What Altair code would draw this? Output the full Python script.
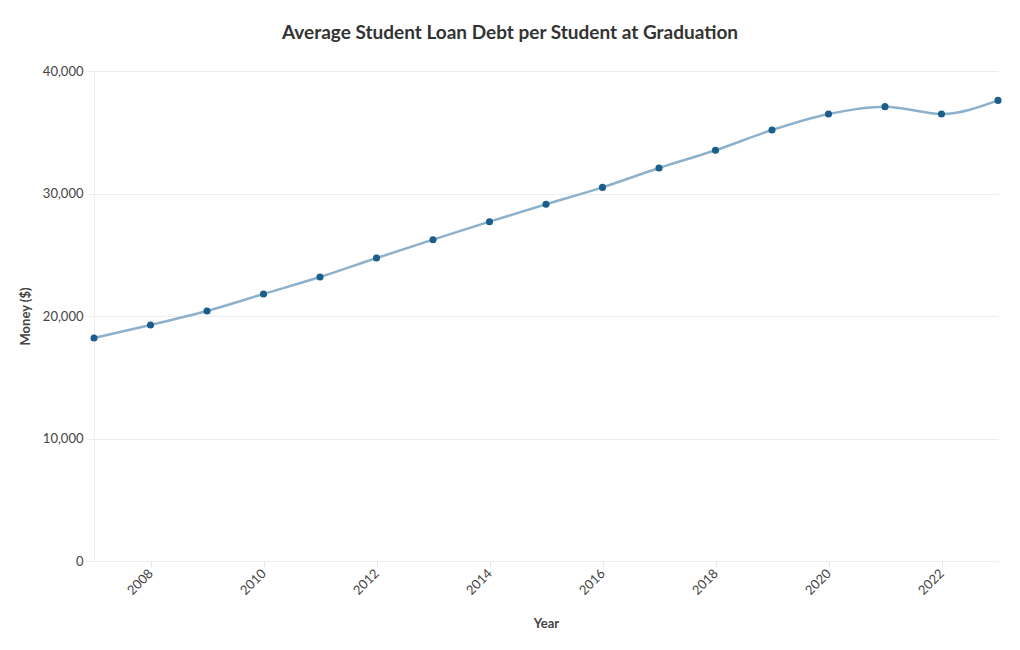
import altair as alt
import pandas as pd

years = list(range(2007, 2024))
debt = [18200, 19270, 20410, 21800, 23180, 24730, 26230, 27700, 29120, 30500,
        32080, 33530, 35180, 36490, 37090, 36490, 37600]
x_ticks = [2008, 2010, 2012, 2014, 2016, 2018, 2020, 2022]
y_ticks = [0, 10000, 20000, 30000, 40000]

df = pd.DataFrame({"Year": years, "Money": debt})

FONT = "Lato"

x_enc = alt.X("Year:Q", scale=alt.Scale(domain=[2007, 2023], nice=False, zero=False),
              axis=alt.Axis(title="Year", values=x_ticks, format="d", labelAngle=315,
                            labelAlign="right", labelBaseline="middle", grid=False,
                            tickColor="#e6e6e6", tickSize=6, labelPadding=4,
                            domainColor="#eeeeee", titlePadding=20))
y_enc = alt.Y("Money:Q", scale=alt.Scale(domain=[0, 40000], nice=False),
              axis=alt.Axis(title="Money ($)", values=y_ticks, format=",d",
                            gridColor="#eeeeee", tickColor="#eeeeee", tickSize=8,
                            labelPadding=3, domainColor="#eeeeee", titlePadding=10))

line = alt.Chart(df).mark_line(interpolate="monotone", color="#8db1cb", strokeWidth=2.5).encode(
    x=x_enc, y=y_enc)
pts = alt.Chart(df).mark_circle(size=50, color="#1b5e8c", opacity=1).encode(x="Year:Q", y="Money:Q")

chart = (line + pts).properties(
    width=904, height=490,
    title=alt.TitleParams("Average Student Loan Debt per Student at Graduation",
                          fontSize=19, font=FONT, fontWeight="bold", color="#333333",
                          anchor="middle", dx=-36, offset=22),
    padding={"left": 86, "top": 63, "right": 14, "bottom": 76},
    autosize=alt.AutoSizeParams(type="none"),
).configure_axis(
    labelFont=FONT, titleFont=FONT, labelFontSize=13, titleFontSize=13,
    labelColor="#444444", titleColor="#444444", titleFontWeight="bold"
).configure_view(stroke=None)

chart.save("out.html", embed_options={"renderer": "svg", "actions": False})
